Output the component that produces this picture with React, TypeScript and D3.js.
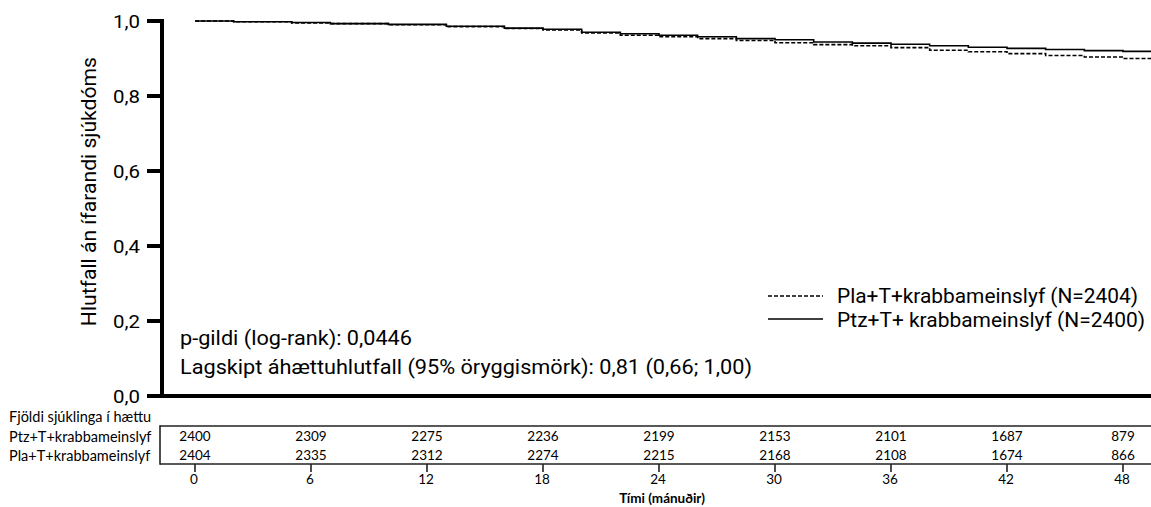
import React from "react";
import * as d3 from "d3";

// Kaplan-Meier estimates (months, proportion)
const ptzTimes = [0, 2, 5, 7, 10, 13, 16, 18, 20, 22, 24, 26, 28, 30, 32, 34, 36, 38, 40, 42, 44, 46, 48, 49.6];
const ptzSurv = [1.0, 0.998, 0.996, 0.993, 0.991, 0.986, 0.981, 0.978, 0.970, 0.966, 0.962, 0.958, 0.953, 0.950, 0.944, 0.941, 0.938, 0.934, 0.930, 0.927, 0.924, 0.921, 0.919, 0.917];
const plaTimes = [0, 2, 5, 7, 10, 13, 16, 18, 20, 22, 24, 26, 28, 30, 32, 34, 36, 38, 40, 42, 44, 46, 48, 49.6];
const plaSurv = [1.0, 0.998, 0.995, 0.993, 0.990, 0.985, 0.980, 0.976, 0.968, 0.962, 0.958, 0.953, 0.948, 0.942, 0.937, 0.934, 0.929, 0.922, 0.918, 0.913, 0.908, 0.904, 0.900, 0.897];

const yTicks = [0, 0.2, 0.4, 0.6, 0.8, 1.0];
const xTicks = [0, 6, 12, 18, 24, 30, 36, 42, 48];
const ptzAtRisk = [2400, 2309, 2275, 2236, 2199, 2153, 2101, 1687, 879];
const plaAtRisk = [2404, 2335, 2312, 2274, 2215, 2168, 2108, 1674, 866];

const mainFont = "Roboto, 'Open Sans', sans-serif";
const smallFont = "Lato, sans-serif";

export default function App() {
  const width = 1151;
  const height = 507;

  const x = d3.scaleLinear().domain([0, 48]).range([195, 1123]);
  const y = d3.scaleLinear().domain([0, 1]).range([396, 21]);

  const line = d3
    .line<[number, number]>()
    .x((d) => x(d[0]))
    .y((d) => y(d[1]))
    .curve(d3.curveStepAfter);

  const ptzPath = line(ptzTimes.map((t, i) => [t, ptzSurv[i]]) as [number, number][]) || "";
  const plaPath = line(plaTimes.map((t, i) => [t, plaSurv[i]]) as [number, number][]) || "";

  const fmt = (v: number) => v.toFixed(1).replace(".", ",");

  return (
    <svg
      width={width}
      height={height}
      style={{ position: "absolute", left: 0, top: 0, background: "#fff" }}
    >
      {/* curves */}
      <path d={plaPath} fill="none" stroke="#000" strokeWidth={1.6} strokeDasharray="4,2" />
      <path d={ptzPath} fill="none" stroke="#000" strokeWidth={1.6} />

      {/* axes */}
      <line x1={162} x2={162} y1={19} y2={398} stroke="#000" strokeWidth={4} />
      <line x1={160} x2={width} y1={396} y2={396} stroke="#000" strokeWidth={4} />
      {yTicks.map((t) => (
        <g key={t}>
          <line x1={147} x2={162} y1={y(t)} y2={y(t)} stroke="#000" strokeWidth={4} />
          <text
            x={140}
            y={y(t)}
            dy="0.36em"
            textAnchor="end"
            fontFamily={mainFont}
            fontSize={19}
            textLength={27}
            lengthAdjust="spacingAndGlyphs"
            fill="#000"
          >
            {fmt(t)}
          </text>
        </g>
      ))}
      <text
        transform={`translate(96,${y(0.545)}) rotate(-90)`}
        textAnchor="middle"
        fontFamily={mainFont}
        fontSize={19.5}
        textLength={269}
        lengthAdjust="spacingAndGlyphs"
        fill="#000"
      >
        Hlutfall án ífarandi sjúkdóms
      </text>

      {/* annotations */}
      <text x={180} y={345} fontFamily={mainFont} fontSize={19.5} textLength={232} lengthAdjust="spacingAndGlyphs" fill="#000">
        p-gildi (log-rank): 0,0446
      </text>
      <text x={180} y={374} fontFamily={mainFont} fontSize={19.5} textLength={572} lengthAdjust="spacingAndGlyphs" fill="#000">
        Lagskipt áhættuhlutfall (95% öryggismörk): 0,81 (0,66; 1,00)
      </text>

      {/* legend */}
      <line x1={768} x2={823} y1={296} y2={296} stroke="#000" strokeWidth={1.6} strokeDasharray="4,2" />
      <text x={837} y={302.5} fontFamily={mainFont} fontSize={19.5} textLength={301} lengthAdjust="spacingAndGlyphs" fill="#000">
        Pla+T+krabbameinslyf (N=2404)
      </text>
      <line x1={768} x2={823} y1={319} y2={319} stroke="#000" strokeWidth={1.6} />
      <text x={837} y={326.5} fontFamily={mainFont} fontSize={19.5} textLength={308} lengthAdjust="spacingAndGlyphs" fill="#000">
        Ptz+T+ krabbameinslyf (N=2400)
      </text>

      {/* number at risk table */}
      <text x={9} y={422} fontFamily={smallFont} fontSize={14.5} fill="#000">
        Fjöldi sjúklinga í hættu
      </text>
      <text x={9} y={442} fontFamily={smallFont} fontSize={14.5} fill="#000">
        Ptz+T+krabbameinslyf
      </text>
      <text x={9} y={461} fontFamily={smallFont} fontSize={14.5} fill="#000">
        Pla+T+krabbameinslyf
      </text>
      <line x1={160} x2={width} y1={426} y2={426} stroke="#222" strokeWidth={1.6} />
      <line x1={160} x2={width} y1={464} y2={464} stroke="#222" strokeWidth={1.6} />
      <line x1={160} x2={160} y1={425.2} y2={464.8} stroke="#222" strokeWidth={1.6} />
      {xTicks.map((t, i) => (
        <g key={t}>
          <text x={x(t)} y={441} textAnchor="middle" fontFamily={smallFont} fontSize={13.5} fill="#000">
            {ptzAtRisk[i]}
          </text>
          <text x={x(t)} y={460} textAnchor="middle" fontFamily={smallFont} fontSize={13.5} fill="#000">
            {plaAtRisk[i]}
          </text>
          <line x1={x(t)} x2={x(t)} y1={464} y2={472} stroke="#222" strokeWidth={1.6} />
          <text x={x(t) - 1} y={484} textAnchor="middle" fontFamily={smallFont} fontSize={13.5} fill="#000">
            {t}
          </text>
        </g>
      ))}
      <text
        x={x(24) + 3}
        y={503}
        textAnchor="middle"
        fontFamily={smallFont}
        fontSize={13.5}
        fontWeight="bold"
        fill="#000"
      >
        Tími (mánuðir)
      </text>
    </svg>
  );
}
